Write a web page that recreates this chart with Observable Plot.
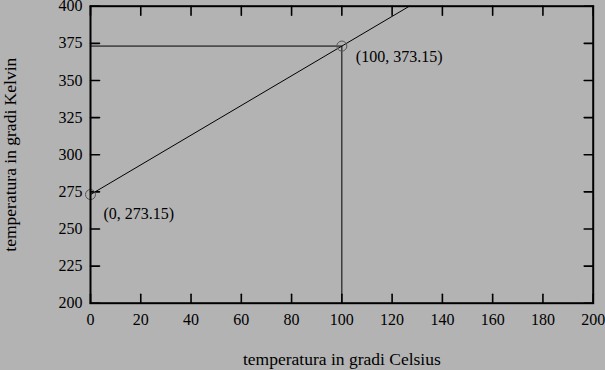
<!DOCTYPE html>
<html>
<head>
<meta charset="utf-8">
<script src="https://cdn.jsdelivr.net/npm/d3@7"></script>
<script src="https://cdn.jsdelivr.net/npm/@observablehq/plot@0.6"></script>
<style>
  html, body { margin: 0; padding: 0; background: #b3b3b3; }
  #chart svg { display: block; }
</style>
</head>
<body>
<div id="chart"></div>
<script>
const xTicks = [0, 20, 40, 60, 80, 100, 120, 140, 160, 180, 200];
const yTicks = [200, 225, 250, 275, 300, 325, 350, 375, 400];
const celsius = [0, 100];
const kelvin = [273.15, 373.15];
const pointLabels = ["(0, 273.15)", "(100, 373.15)"];
const lineCelsius = [0, 126.85];
const lineKelvin = [273.15, 400];

const pts = celsius.map((c, i) => ({c, k: kelvin[i], label: pointLabels[i]}));
const linePts = lineCelsius.map((c, i) => ({c, k: lineKelvin[i]}));

const tickShape = {draw(ctx, l) { ctx.moveTo(0, 0); ctx.lineTo(0, -l); }};
const tickOpts = {length: 9, anchor: "start", shape: tickShape, stroke: "black", strokeWidth: 1.6};

const chart = Plot.plot({
  width: 605,
  height: 370,
  marginLeft: 90,
  marginRight: 12.3,
  marginTop: 5.7,
  marginBottom: 67.3,
  style: {background: "#b3b3b3", fontFamily: "'Liberation Serif', serif", fontSize: "16px", color: "black"},
  x: {domain: [0, 200]},
  y: {domain: [200, 400]},
  marks: [
    Plot.axisX(xTicks, {tickSize: 0, tickPadding: 10, label: null, fontSize: 16}),
    Plot.axisX({ticks: [], tickSize: 0, label: "temperatura in gradi Celsius", labelAnchor: "center", labelArrow: "none", labelOffset: 62, fontSize: 17.5}),
    Plot.axisY(yTicks, {tickSize: 0, tickPadding: 8, label: null, fontSize: 16}),
    Plot.axisY({ticks: [], tickSize: 0, label: "temperatura in gradi Kelvin", labelAnchor: "center", labelArrow: "none", labelOffset: 87, fontSize: 17.5}),
    Plot.vector(xTicks, {x: d => d, frameAnchor: "bottom", rotate: 0, ...tickOpts}),
    Plot.vector(xTicks, {x: d => d, frameAnchor: "top", rotate: 180, ...tickOpts}),
    Plot.vector(yTicks, {y: d => d, frameAnchor: "left", rotate: 90, ...tickOpts}),
    Plot.vector(yTicks, {y: d => d, frameAnchor: "right", rotate: -90, ...tickOpts}),
    Plot.ruleY(pts, {y: "k", x1: 0, x2: "c", stroke: "black", strokeWidth: 1}),
    Plot.ruleX(pts.filter(d => d.c > 0), {x: "c", y1: 200, y2: "k", stroke: "black", strokeWidth: 1}),
    Plot.line(linePts, {x: "c", y: "k", stroke: "black", strokeWidth: 1}),
    Plot.dot(pts, {x: "c", y: "k", r: 5, stroke: "#555", strokeWidth: 1, fill: "none"}),
    Plot.text(pts.filter(d => d.c === 0), {x: "c", y: "k", text: "label", textAnchor: "start", dx: 13, dy: 19, fill: "black", fontSize: 16}),
    Plot.text(pts.filter(d => d.c === 100), {x: "c", y: "k", text: "label", textAnchor: "start", dx: 14, dy: 11, fill: "black", fontSize: 16}),
    Plot.frame({stroke: "black", strokeWidth: 2})
  ]
});
document.getElementById("chart").append(chart);
</script>
</body>
</html>
